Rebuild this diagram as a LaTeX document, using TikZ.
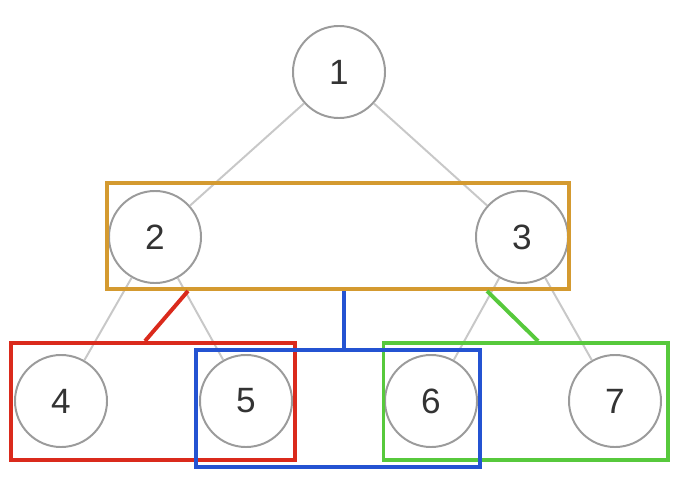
\documentclass[tikz,border=0pt]{standalone}
\usepackage{fontspec}
\setmainfont{Liberation Sans}
\definecolor{edgegray}{HTML}{C8C8C8}
\definecolor{ringgray}{HTML}{9B9B9B}
\definecolor{numgray}{HTML}{333333}
\definecolor{lvlorange}{HTML}{D49A30}
\definecolor{lvlred}{HTML}{DA2A1C}
\definecolor{lvlblue}{HTML}{2453D2}
\definecolor{lvlgreen}{HTML}{57C93C}
\usetikzlibrary{positioning,calc}
\tikzset{vert/.style={circle,draw=ringgray,fill=white,line width=1.4pt,minimum size=2.3cm,inner sep=0pt,text=numgray,font=\fontsize{25}{30}\selectfont},link/.style={draw=edgegray,line width=1.4pt},grp/.style={draw=#1,line width=2.8pt,inner sep=0pt,minimum height=2.925cm,minimum width=7.1cm}}

\begin{document}
\begin{tikzpicture}[x=0.025cm,y=-0.025cm]
\useasboundingbox (0,0) rectangle (676,480);
\foreach \n/\x/\y in {1/339/72,2/155/237,3/522/237,4/61/401,5/246/401,6/431/401,7/615/401}{
  \node[vert] (v\n) at (\x,\y) {\n};
}
\foreach \a/\b in {1/2,1/3,2/4,2/5,3/6,3/7}{\draw[link] (v\a)--(v\b);}
% groups per level
\node[grp=lvlorange,minimum width=11.55cm,minimum height=2.65cm] (gtop) at (338,236) {};
\node[grp=lvlred] (gred) at (153,401.5) {};
\node[grp=lvlgreen] (ggreen) at (525.5,401.5) {};
\node[grp=lvlblue] (gblue) at (338,408.5) {};
\draw[lvlred,line width=2.8pt] (gtop.south -| 188,0)--(gred.north -| 145,0);
\draw[lvlblue,line width=2.8pt] (gtop.south -| 344,0)--(gblue.north -| 344,0);
\draw[lvlgreen,line width=2.8pt] (gtop.south -| 487,0)--(ggreen.north -| 538,0);
\end{tikzpicture}
\end{document}
